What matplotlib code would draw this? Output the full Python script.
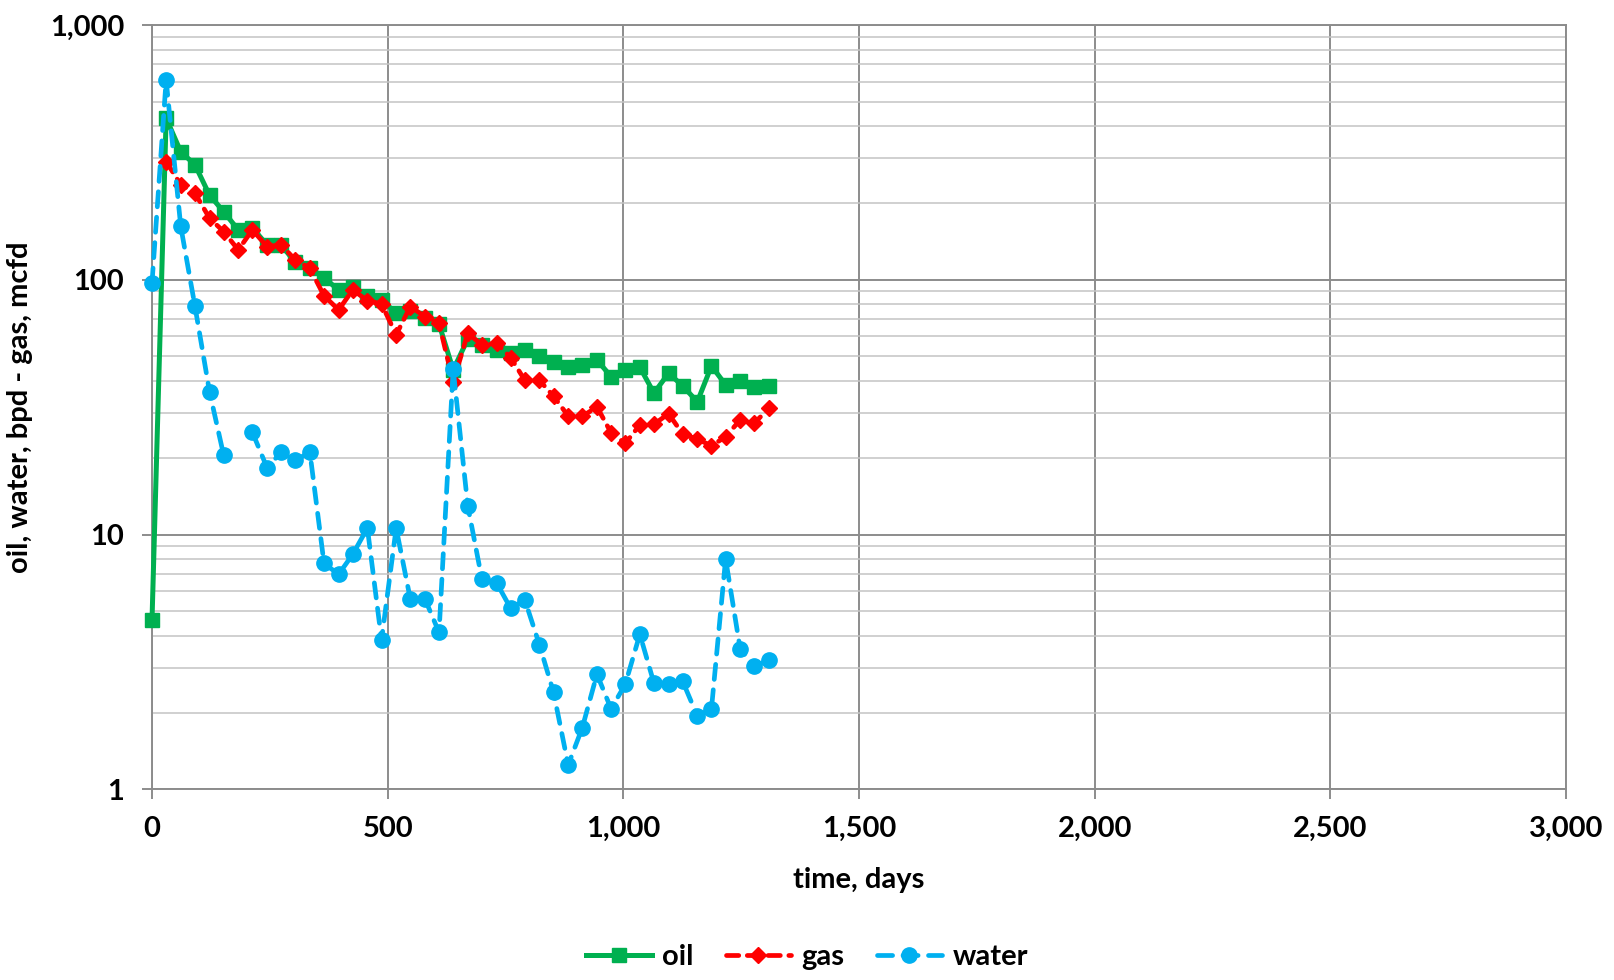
import numpy as np
import matplotlib
matplotlib.use("Agg")
import matplotlib.pyplot as plt
from matplotlib.ticker import FuncFormatter, LogLocator, MultipleLocator, NullFormatter

plt.rcParams['font.family'] = ['Lato', 'DejaVu Sans']
plt.rcParams['font.weight'] = 'bold'

# ---- data ----
days = [0, 30, 61, 91, 122, 152, 183, 213, 244, 274, 304, 335, 365, 396, 426,
        457, 487, 518, 548, 579, 609, 639, 670, 700, 731, 761, 791, 822, 852,
        883, 913, 944, 974, 1004, 1035, 1065, 1096, 1126, 1157, 1187, 1217,
        1248, 1278, 1309]

oil = [4.6, 431, 318, 283, 215, 185, 157, 160, 137, 137, 117, 111, 102, 91,
       93.5, 86.5, 83.4, 74, 75.7, 70.7, 67, 44.3, 58.5, 55.5, 53, 51.5, 53,
       50, 47.7, 45.6, 46.3, 48.4, 41.7, 44.3, 45.4, 35.9, 43.0, 38.3, 33.2,
       45.9, 38.7, 40.2, 38.1, 38.4]

gas = [np.nan, 291, 236, 219, 174.5, 154.6, 131, 157, 135, 137, 119.7, 111,
       86.5, 76.2, 91.3, 82.8, 80.4, 60.8, 78.5, 71.7, 67.5, 39.6, 61.7, 55.5,
       56.4, 49.5, 40.3, 40.3, 34.9, 29.2, 29.1, 31.7, 25.1, 22.8, 26.9, 27.1,
       29.8, 24.8, 23.7, 22.3, 24.2, 28.2, 27.4, 31.3]

water = [97, 609, 162, 79, 36.4, 20.5, np.nan, 25.2, 18.3, 21.0, 19.6, 21.0,
         7.7, 6.98, 8.37, 10.6, 3.86, 10.6, 5.59, 5.59, 4.13, 44.6, 12.95,
         6.67, 6.47, 5.13, 5.54, 3.69, 2.40, 1.246, 1.746, 2.83, 2.07, 2.58,
         4.06, 2.61, 2.58, 2.65, 1.94, 2.07, 8.02, 3.55, 3.05, 3.21]

series_names = ["oil", "gas", "water"]
x_label = "time, days"
y_label = "oil, water, bpd - gas, mcfd"

# ---- figure ----
fig = plt.figure(figsize=(16.14, 9.80), dpi=100)
ax = fig.add_axes([152/1614, 1 - 789.3/980, (1566 - 152)/1614, (789.3 - 25)/980])

c_oil, c_gas, c_water = "#00B050", "#FF0000", "#00B0F0"

ax.plot(days, oil, color=c_oil, lw=3.6, marker='s', ms=10.5,
        label=series_names[0], zorder=3, clip_on=False)
ax.plot(days, gas, color=c_gas, lw=3.4, marker='D', ms=8.5,
        dashes=(2.6, 1.8), dash_capstyle='round', label=series_names[1],
        zorder=4, clip_on=False)
ax.plot(days, water, color=c_water, lw=3.4, marker='o', ms=11,
        dashes=(3.2, 2.2), dash_capstyle='round', label=series_names[2],
        zorder=5, clip_on=False)

ax.set_yscale('log')
ax.set_ylim(1, 1000)
ax.set_xlim(0, 3000)
ax.xaxis.set_major_locator(MultipleLocator(500))
ax.yaxis.set_major_locator(LogLocator(base=10, numticks=10))
ax.yaxis.set_minor_locator(LogLocator(base=10, subs=np.arange(2, 10), numticks=20))
ax.yaxis.set_minor_formatter(NullFormatter())
fmt = FuncFormatter(lambda v, p: f"{v:,.0f}")
ax.xaxis.set_major_formatter(fmt)
ax.yaxis.set_major_formatter(fmt)

major_c = "#8c8c8c"
minor_c = "#c4c4c4"
ax.grid(True, which='major', axis='both', color=major_c, lw=1.4, zorder=0)
ax.grid(True, which='minor', axis='y', color=minor_c, lw=1.1, zorder=0)
ax.set_axisbelow(True)
for s in ax.spines.values():
    s.set_color(major_c)
    s.set_linewidth(1.4)

fs = 21
ax.tick_params(axis='both', which='major', direction='out', length=7.2,
               width=1.4, color=major_c, labelsize=fs)
ax.tick_params(axis='x', which='major', pad=12)
ax.tick_params(axis='y', which='major', pad=13)
ax.tick_params(axis='y', which='minor', length=0)
for lab in ax.get_xticklabels() + ax.get_yticklabels():
    lab.set_fontweight('bold')

ax.set_xlabel(x_label, fontsize=fs, fontweight='bold', labelpad=18)
ax.set_ylabel(y_label, fontsize=fs, fontweight='bold', labelpad=12)

leg = fig.legend(loc='center', bbox_to_anchor=(0.5, 1 - 957/980), ncol=3,
                 frameon=False, fontsize=fs, handlelength=2.25, columnspacing=1.1,
                 handletextpad=0.35)
for t in leg.get_texts():
    t.set_fontweight('bold')

fig.savefig("out.png", dpi=100)
